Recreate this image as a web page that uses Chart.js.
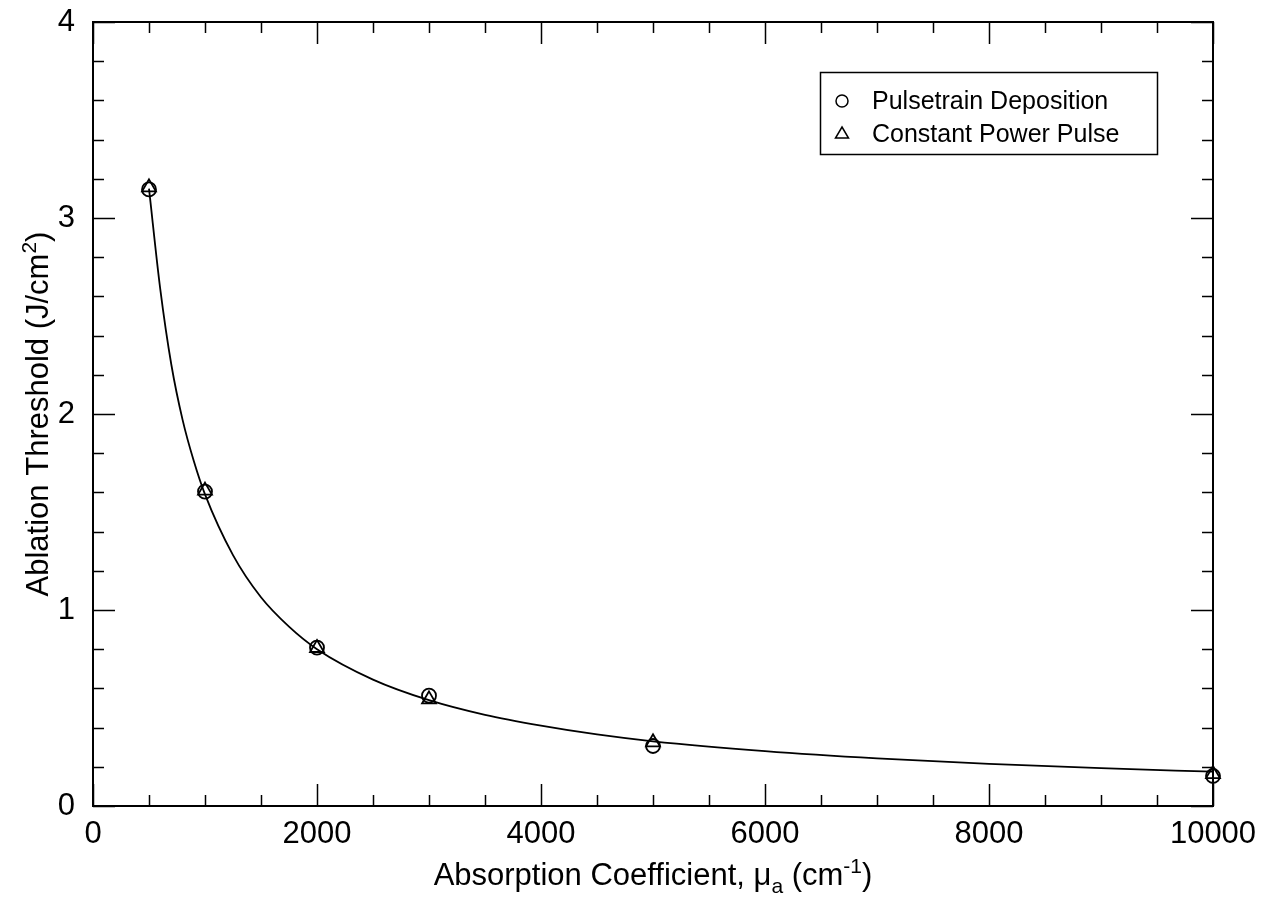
<!DOCTYPE html>
<html>
<head>
<meta charset="utf-8">
<title>Ablation Threshold</title>
<script src="https://cdn.jsdelivr.net/npm/chart.js@4.4.1/dist/chart.umd.min.js"></script>
<style>
  body { margin: 0; background: #fff; }
  #wrap { width: 1262px; height: 898px; }
</style>
</head>
<body>
<div id="wrap"><canvas id="myChart" width="1262" height="898"></canvas></div>
<script>
const FONT = "'Liberation Sans', Arial, Helvetica, sans-serif";

// measured points
const absorption = [500, 1000, 2000, 3000, 5000, 10000];
const pulsetrain = [3.146, 1.604, 0.808, 0.563, 0.306, 0.153];
const constantPower = [3.156, 1.609, 0.806, 0.544, 0.325, 0.163];

// fitted curve
const curveX = [500, 600, 700, 800, 900, 1000, 1250, 1500, 1750, 2000, 2500, 3000, 3500, 4000, 4500, 5000, 6000, 7000, 8000, 9000, 10000];
const curveY = [3.15, 2.64, 2.25, 1.97, 1.76, 1.59, 1.28, 1.065, 0.915, 0.80, 0.645, 0.54, 0.465, 0.41, 0.365, 0.33, 0.28, 0.243, 0.215, 0.193, 0.175];

const xTicks = [0, 2000, 4000, 6000, 8000, 10000];
const yTicks = [0, 1, 2, 3, 4];

function toXY(xs, ys) {
    var result = [];
    for (var i = 0; i < xs.length; i++) result[i] = { x: xs[i], y: ys[i] };
    return result;
}

// draws a run of text pieces with sub/superscripts, centred on (0,0) baseline
function drawPieces(ctx, pieces) {
    var total = 0;
    for (var i = 0; i < pieces.length; i++) {
        ctx.font = pieces[i].size + "px " + FONT;
        pieces[i].w = ctx.measureText(pieces[i].t).width;
        total += pieces[i].w;
    }
    var x = -total / 2;
    ctx.textBaseline = "alphabetic";
    ctx.textAlign = "left";
    for (var i = 0; i < pieces.length; i++) {
        ctx.font = pieces[i].size + "px " + FONT;
        ctx.fillText(pieces[i].t, x, pieces[i].dy || 0);
        x += pieces[i].w;
    }
}

const frameAndTicks = {
    id: "frameAndTicks",
    afterDatasetsDraw(chart) {
        const ctx = chart.ctx;
        const a = chart.chartArea;
        const xs = chart.scales.x;
        const ys = chart.scales.y;
        ctx.save();
        ctx.strokeStyle = "#000";
        ctx.lineWidth = 2;
        ctx.strokeRect(a.left, a.top, a.right - a.left, a.bottom - a.top);

        ctx.lineWidth = 1.5;
        ctx.beginPath();
        for (var v = 0; v <= 10000; v += 500) {
            var len = (v % 2000 === 0) ? 22 : 11;
            var px = Math.round(xs.getPixelForValue(v)) + 0.5;
            ctx.moveTo(px, a.bottom); ctx.lineTo(px, a.bottom - len);
            ctx.moveTo(px, a.top); ctx.lineTo(px, a.top + len);
        }
        for (var k = 0; k <= 20; k++) {
            var val = k * 0.2;
            var len2 = (k % 5 === 0) ? 22 : 11;
            var py = Math.round(ys.getPixelForValue(val)) + 0.5;
            ctx.moveTo(a.left, py); ctx.lineTo(a.left + len2, py);
            ctx.moveTo(a.right, py); ctx.lineTo(a.right - len2, py);
        }
        ctx.stroke();

        // legend box
        const lx = 820, ly = 72, lw = 337, lh = 82;
        ctx.lineWidth = 1.5;
        ctx.strokeRect(lx + 0.5, ly + 0.5, lw, lh);
        ctx.fillStyle = "#000";
        ctx.font = "25px " + FONT;
        ctx.textBaseline = "middle";
        ctx.textAlign = "left";
        const ds = chart.data.datasets;
        ctx.lineWidth = 1.5;
        ctx.beginPath();
        ctx.arc(842, 101, 6, 0, Math.PI * 2);
        ctx.stroke();
        ctx.fillText(ds[0].label, 872, 102);
        ctx.beginPath();
        ctx.moveTo(842, 127); ctx.lineTo(848.5, 138); ctx.lineTo(835.5, 138); ctx.closePath();
        ctx.stroke();
        ctx.fillText(ds[1].label, 872, 135);

        // axis titles
        ctx.fillStyle = "#000";
        ctx.save();
        ctx.translate((a.left + a.right) / 2, 885);
        drawPieces(ctx, [
            { t: "Absorption Coefficient, \u03bc", size: 31 },
            { t: "a", size: 21, dy: 8 },
            { t: " (cm", size: 31 },
            { t: "-1", size: 21, dy: -12 },
            { t: ")", size: 31 }
        ]);
        ctx.restore();
        ctx.save();
        ctx.translate(48, (a.top + a.bottom) / 2);
        ctx.rotate(-Math.PI / 2);
        drawPieces(ctx, [
            { t: "Ablation Threshold (J/cm", size: 31 },
            { t: "2", size: 21, dy: -12 },
            { t: ")", size: 31 }
        ]);
        ctx.restore();
        ctx.restore();
    }
};

const ctx = document.getElementById("myChart").getContext("2d");
const myChart = new Chart(ctx, {
    type: "scatter",
    data: {
        datasets: [{
            label: "Pulsetrain Deposition",
            data: toXY(absorption, pulsetrain),
            pointStyle: "circle",
            pointRadius: 7,
            pointBorderWidth: 1.8,
            borderColor: "#000",
            backgroundColor: "rgba(0,0,0,0)",
            clip: false,
        }, {
            label: "Constant Power Pulse",
            data: toXY(absorption, constantPower),
            pointStyle: "triangle",
            pointRadius: 8,
            pointBorderWidth: 1.8,
            borderColor: "#000",
            backgroundColor: "rgba(0,0,0,0)",
            clip: false,
        }, {
            label: "Fit",
            type: "line",
            data: toXY(curveX, curveY),
            showLine: true,
            pointRadius: 0,
            borderColor: "#000",
            borderWidth: 1.8,
            cubicInterpolationMode: "monotone",
            fill: false,
        }],
    },
    options: {
        responsive: false,
        animation: false,
        layout: { padding: { top: 22, right: 49, left: 0, bottom: 0 } },
        plugins: {
            legend: { display: false },
            tooltip: { enabled: false },
        },
        scales: {
            x: {
                type: "linear",
                min: 0,
                max: 10000,
                afterBuildTicks: (s) => { s.ticks = xTicks.map(v => ({ value: v })); },
                afterFit: (s) => { s.height = 92; s.paddingLeft = 0; s.paddingRight = 0; },
                grid: { display: false },
                border: { display: false },
                ticks: {
                    color: "#000",
                    font: { size: 31, family: FONT },
                    padding: 2,
                    maxRotation: 0,
                    callback: (v) => String(v),
                },
            },
            y: {
                min: 0,
                max: 4,
                afterBuildTicks: (s) => { s.ticks = yTicks.map(v => ({ value: v })); },
                afterFit: (s) => { s.width = 93; s.paddingTop = 0; s.paddingBottom = 0; },
                grid: { display: false },
                border: { display: false },
                ticks: { color: "#000", font: { size: 31, family: FONT }, padding: 10 },
            },
        },
    },
    plugins: [frameAndTicks],
});
</script>
</body>
</html>
